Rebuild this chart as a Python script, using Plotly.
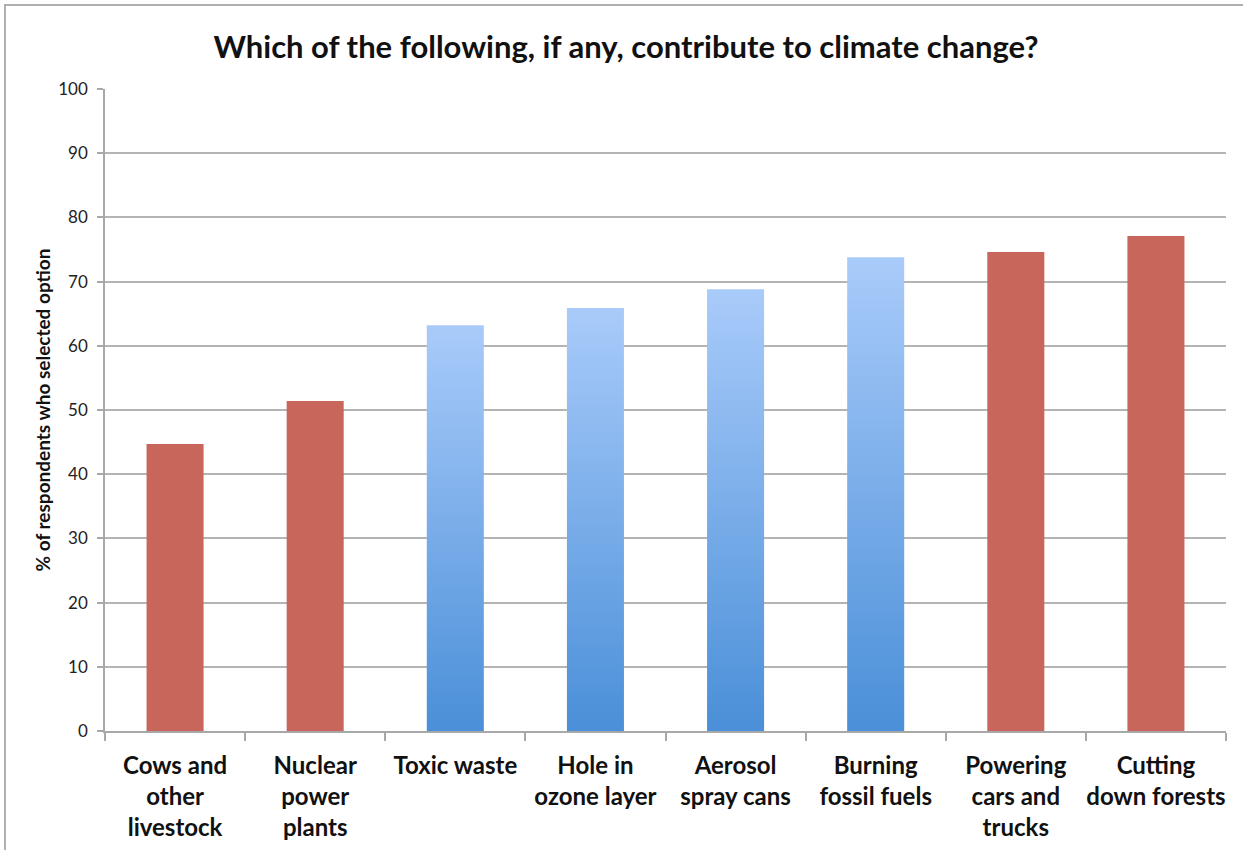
import plotly.graph_objects as go

# Survey answers (share of respondents, %)
categories = [
    "Cows and<br>other<br>livestock",
    "Nuclear<br>power<br>plants",
    "Toxic waste",
    "Hole in<br>ozone layer",
    "Aerosol<br>spray cans",
    "Burning<br>fossil fuels",
    "Powering<br>cars and<br>trucks",
    "Cutting<br>down forests",
]
values = [44.7, 51.4, 63.2, 65.9, 68.8, 73.8, 74.6, 77.1]
highlighted = [True, True, False, False, False, False, True, True]

y_ticks = list(range(0, 101, 10))

RED = "#C9665B"
BLUE_TOP = "#A9CBFA"
BLUE_BOTTOM = "#4A8FD8"
GRID = "#B4B4B4"
AXIS = "#A8A8A8"
FONT = "Lato"
BAR_W = 0.407

fig = go.Figure()

# Solid red bars
red_idx = [i for i, h in enumerate(highlighted) if h]
fig.add_trace(go.Bar(
    x=red_idx,
    y=[values[i] for i in red_idx],
    width=BAR_W,
    marker=dict(color=RED, line=dict(width=0)),
    hoverinfo="skip",
    showlegend=False,
))

# Blue bars with a vertical gradient, one filled shape per bar
for i, (v, h) in enumerate(zip(values, highlighted)):
    if h:
        continue
    x0, x1 = i - BAR_W / 2, i + BAR_W / 2
    fig.add_trace(go.Scatter(
        x=[x0, x1, x1, x0, x0],
        y=[0, 0, v, v, 0],
        mode="lines",
        line=dict(width=0, color=BLUE_TOP),
        fill="toself",
        fillgradient=dict(
            type="vertical",
            start=0,
            stop=v,
            colorscale=[[0, BLUE_BOTTOM], [1, BLUE_TOP]],
        ),
        hoverinfo="skip",
        showlegend=False,
    ))

fig.update_layout(
    width=1243,
    height=850,
    margin=dict(l=105, r=17, t=89, b=119),
    paper_bgcolor="white",
    plot_bgcolor="white",
    font=dict(family=FONT, color="#1a1a1a"),
    title=dict(
        text="<b>Which of the following, if any, contribute to climate change?</b>",
        x=(626) / 1243,
        xref="container",
        xanchor="center",
        y=1 - 47 / 850,
        yref="container",
        yanchor="middle",
        font=dict(family=FONT, size=31, color="#111111"),
    ),
    bargap=0.59,
)

fig.update_xaxes(
    range=[-0.5, len(categories) - 0.5],
    tickmode="array",
    tickvals=list(range(len(categories))),
    ticktext=[f"<b>{c}</b>" for c in categories],
    tickfont=dict(family=FONT, size=24, color="#111111"),
    ticks="",
    ticklabelstandoff=12,
    automargin=False,
    showgrid=False,
    showline=True,
    linecolor=AXIS,
    linewidth=1.5,
    zeroline=False,
    minor=dict(
        tickmode="array",
        tickvals=[k - 0.5 for k in range(len(categories) + 1)],
        ticks="outside",
        ticklen=8,
        tickwidth=1.5,
        tickcolor=AXIS,
        showgrid=False,
    ),
    fixedrange=True,
)

fig.update_yaxes(
    range=[0, 100],
    tickmode="array",
    tickvals=y_ticks,
    tickfont=dict(family=FONT, size=17, color="#222222"),
    ticks="outside",
    ticklen=6,
    tickwidth=1.5,
    tickcolor=AXIS,
    ticklabelstandoff=6,
    automargin=False,
    showgrid=True,
    gridcolor=GRID,
    gridwidth=1.5,
    showline=True,
    linecolor=AXIS,
    linewidth=1.5,
    zeroline=False,
    title=dict(
        text="<b>% of respondents who selected option</b>",
        font=dict(family=FONT, size=19, color="#111111"),
        standoff=3,
    ),
    fixedrange=True,
)

# Outer chart frame (left and top edges visible)
plot_w, plot_h = 1243 - 105 - 17, 850 - 89 - 119
fig.add_shape(
    type="rect",
    xref="paper", yref="paper",
    x0=(5 - 105) / plot_w, x1=1.2,
    y0=-0.3, y1=(731 - 5) / plot_h,
    line=dict(color="#B0B0B0", width=2),
    fillcolor="rgba(0,0,0,0)",
    layer="below",
)

fig.write_html("out.html")
